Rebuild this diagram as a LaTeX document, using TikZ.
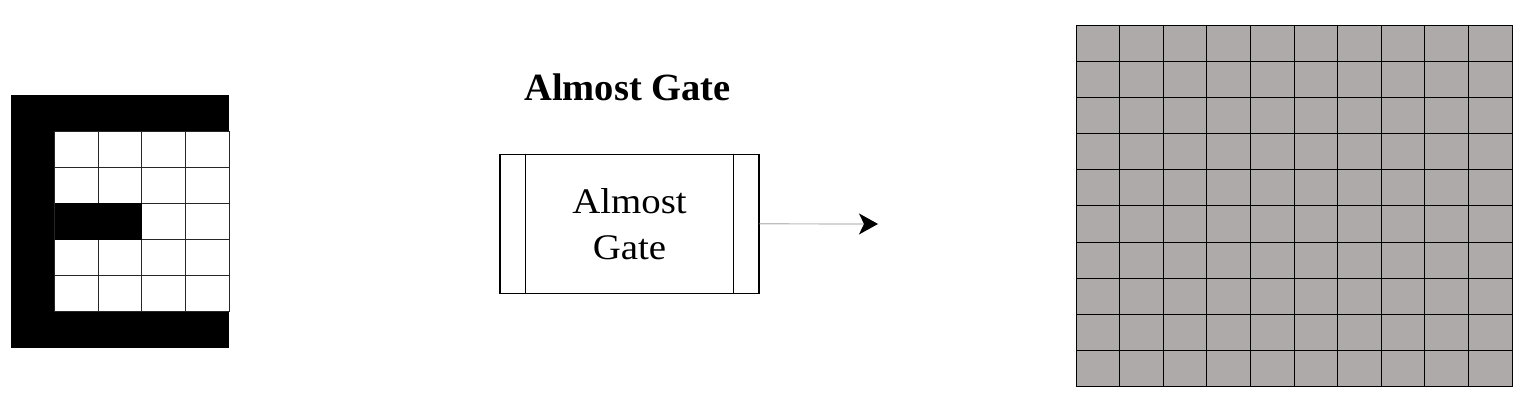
\documentclass[tikz,border=0pt]{standalone}
\usepackage{fontspec}
\setmainfont{Liberation Serif}
\newfontfamily\gatefont[FakeStretch=1.08]{Liberation Serif}
\usetikzlibrary{arrows.meta, positioning, calc}
\definecolor{cellgray}{RGB}{174,170,169}
\definecolor{wiregray}{RGB}{190,190,190}

\begin{document}
\begin{tikzpicture}[x=1pt, y=-1pt,
    gatebox/.style={rectangle, draw=black, line width=1.2pt, minimum width=259pt, minimum height=139pt, align=center, font=\gatefont\fontsize{36}{46}\selectfont},
    title/.style={font=\bfseries\fontsize{38.5}{46}\selectfont, inner sep=0pt},
    pixel/.style={draw=black!85, line width=0.9pt, fill=white},
    cell/.style={draw=black, line width=1pt, fill=cellgray},
    arrow/.style={draw=wiregray, line width=1.2pt, -{Stealth[length=19pt, width=21pt, inset=5pt, black]}}
]
\useasboundingbox (0,0) rectangle (1536,406);

% letter E on a 5x7 grid
\fill[black] (11,95) rectangle (229,348);
\foreach \c in {1,...,4} {
    \foreach \r in {1,...,5} {
        \draw[pixel] (11+43.6*\c, 95+36.14*\r) rectangle ++(43.6,36.14);
    }
}
\fill[black] (11+43.6, 95+36.14*3) rectangle ++(87.2,36.14);

% gate
\node[gatebox] (gate) at (629.5,223.8) {Almost\\Gate};
\draw[line width=1.2pt] ([xshift=26pt]gate.north west) -- ([xshift=26pt]gate.south west);
\draw[line width=1.2pt] ([xshift=-26pt]gate.north east) -- ([xshift=-26pt]gate.south east);
\node[title, above=52.5pt of gate, xshift=-2pt] (caption) {Almost Gate};

\coordinate (out) at (878,224);
\draw[arrow] (gate.east) -- (out);

% output grid 10x10
\foreach \c in {0,...,9} {
    \foreach \r in {0,...,9} {
        \draw[cell] (1076+43.6*\c, 26+36*\r) rectangle ++(43.6,36);
    }
}

\end{tikzpicture}
\end{document}
